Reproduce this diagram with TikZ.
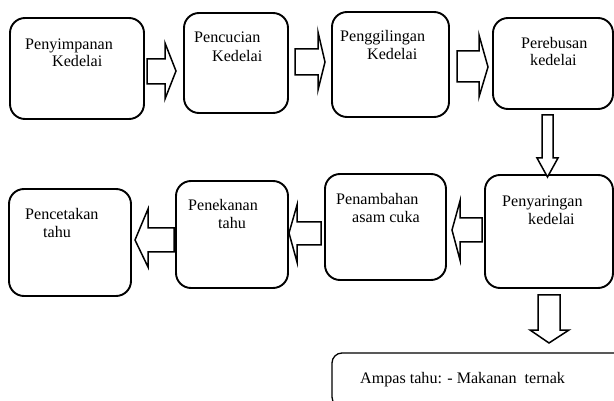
\documentclass[tikz,border=0pt]{standalone}
\usepackage{fontspec}
\setmainfont{Liberation Serif}
\begin{document}
\begin{tikzpicture}[x=1pt,y=-1pt,
  box/.style={draw=black,line width=1.9pt,rounded corners=15pt,inner sep=0pt},
  lbl/.style={inner sep=0pt,anchor=base west,font=\fontsize{16.1}{18}\selectfont},
  blk/.style={draw=black,line width=1.5pt,fill=white,line join=miter}]
\useasboundingbox (0,0) rectangle (614,401);
\clip (0,0) rectangle (614,401);
% boxes
\node[box,minimum width=134pt,minimum height=101pt] (b1) at (77,68.5) {};
\node[box,minimum width=104pt,minimum height=100pt] (b2) at (236,63) {};
\node[box,minimum width=117pt,minimum height=105pt] (b3) at (390.5,64.5) {};
\node[box,minimum width=120pt,minimum height=91pt] (b4) at (553,63.5) {};
\node[box,minimum width=128pt,minimum height=113pt] (b5) at (549,231.5) {};
\node[box,minimum width=121pt,minimum height=106pt] (b6) at (385.5,227) {};
\node[box,minimum width=112pt,minimum height=107pt] (b7) at (232,234.5) {};
\node[box,minimum width=122pt,minimum height=107pt] (b8) at (70,242.5) {};
\node[box,line width=1.3pt,rounded corners=10pt,minimum width=300pt,minimum height=54pt] (b9) at (482,380) {};
% texts
\node[lbl] (t1a) at (25,49.3) {Penyimpanan};
\node[lbl] (t1b) at (52,67) {Kedelai};
\node[lbl] (t2a) at (194,42.5) {Pencucian};
\node[lbl] (t2b) at (212,61.5) {Kedelai};
\node[lbl] (t3a) at (340,41.7) {Penggilingan};
\node[lbl] (t3b) at (367,60) {Kedelai};
\node[lbl] (t4a) at (521,48.3) {Perebusan};
\node[lbl] (t4b) at (530,65.7) {kedelai};
\node[lbl] (t5a) at (502,206.7) {Penyaringan};
\node[lbl] (t5b) at (528,225) {kedelai};
\node[lbl] (t6a) at (336,205) {Penambahan};
\node[lbl] (t6b) at (352,222.7) {asam cuka};
\node[lbl] (t7a) at (188,210.7) {Penekanan};
\node[lbl] (t7b) at (218,229) {tahu};
\node[lbl] (t8a) at (25,220) {Pencetakan};
\node[lbl] (t8b) at (43,238) {tahu};
\node[lbl] (t9) at (360,383.3) {Ampas tahu: - Makanan\ \ ternak};
% block arrows
\draw[blk] (147,59) -- (165,59) -- (165,43) -- (176,71) -- (165,99) -- (165,84) -- (147,84) -- cycle;
\draw[blk] (295,49) -- (318,49) -- (318,32) -- (325,62) -- (318,90) -- (318,75) -- (295,75) -- cycle;
\draw[blk] (457,51) -- (479,51) -- (479,35) -- (488,67) -- (479,97) -- (479,82) -- (457,82) -- cycle;
\draw[blk] (542,115) -- (553,115) -- (553,158) -- (558,158) -- (547.5,177) -- (537,158) -- (542,158) -- cycle;
\draw[blk] (482,218) -- (460,218) -- (460,201) -- (452,230) -- (460,260) -- (460,242) -- (482,242) -- cycle;
\draw[blk] (321,222) -- (297,222) -- (297,205) -- (289,233) -- (297,262) -- (297,245) -- (321,245) -- cycle;
\draw[blk] (174,228) -- (148,228) -- (148,209) -- (135,240) -- (148,267) -- (148,252) -- (174,252) -- cycle;
\draw[blk] (538,295) -- (560,295) -- (560,330) -- (569,330) -- (549,343) -- (530,330) -- (538,330) -- cycle;
\end{tikzpicture}
\end{document}
